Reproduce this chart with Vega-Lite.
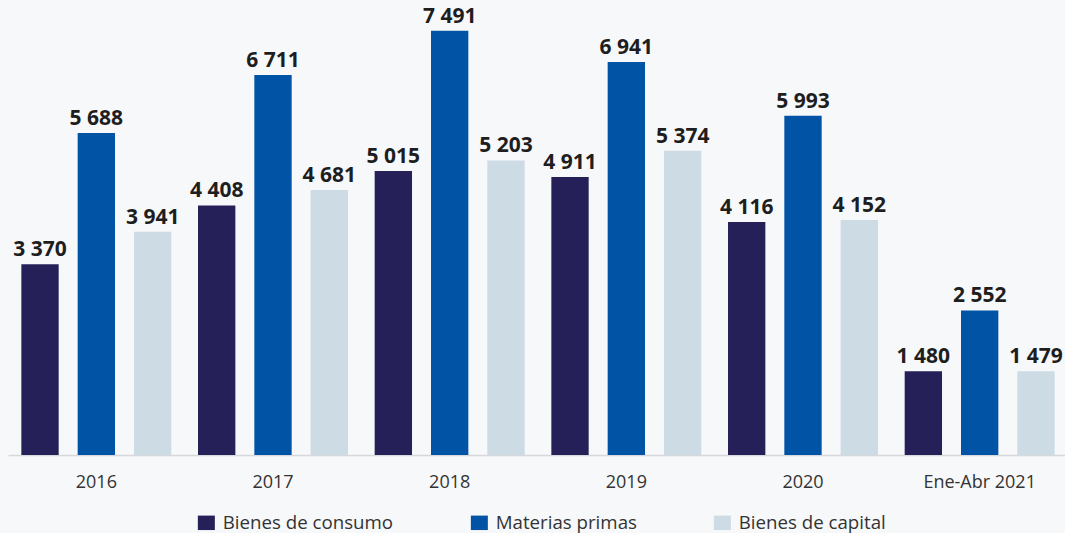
{
  "$schema": "https://vega.github.io/schema/vega-lite/v6.json",
  "width": 1057,
  "height": 453,
  "autosize": "none",
  "padding": {"left": 8, "top": 2, "right": 0, "bottom": 78},
  "background": "#f7f8fa",
  "config": {
    "view": {"stroke": null},
    "font": "Open Sans",
    "locale": {"number": {"decimal": ",", "thousands": " ", "grouping": [3], "currency": ["", ""]}}
  },
  "data": {
    "values": [
      {"periodo": "2016", "tipo": "Bienes de consumo", "valor": 3370},
      {"periodo": "2016", "tipo": "Materias primas", "valor": 5688},
      {"periodo": "2016", "tipo": "Bienes de capital", "valor": 3941},
      {"periodo": "2017", "tipo": "Bienes de consumo", "valor": 4408},
      {"periodo": "2017", "tipo": "Materias primas", "valor": 6711},
      {"periodo": "2017", "tipo": "Bienes de capital", "valor": 4681},
      {"periodo": "2018", "tipo": "Bienes de consumo", "valor": 5015},
      {"periodo": "2018", "tipo": "Materias primas", "valor": 7491},
      {"periodo": "2018", "tipo": "Bienes de capital", "valor": 5203},
      {"periodo": "2019", "tipo": "Bienes de consumo", "valor": 4911},
      {"periodo": "2019", "tipo": "Materias primas", "valor": 6941},
      {"periodo": "2019", "tipo": "Bienes de capital", "valor": 5374},
      {"periodo": "2020", "tipo": "Bienes de consumo", "valor": 4116},
      {"periodo": "2020", "tipo": "Materias primas", "valor": 5993},
      {"periodo": "2020", "tipo": "Bienes de capital", "valor": 4152},
      {"periodo": "Ene-Abr 2021", "tipo": "Bienes de consumo", "valor": 1480},
      {"periodo": "Ene-Abr 2021", "tipo": "Materias primas", "valor": 2552},
      {"periodo": "Ene-Abr 2021", "tipo": "Bienes de capital", "valor": 1479}
    ]
  },
  "encoding": {
    "x": {
      "field": "periodo",
      "type": "nominal",
      "sort": null,
      "scale": {"range": [0, 1060], "paddingInner": 0, "paddingOuter": 0},
      "axis": {
        "title": null,
        "labelAngle": 0,
        "ticks": false,
        "labelFontSize": 18,
        "labelColor": "#333333",
        "labelPadding": 18,
        "domainColor": "#d6d8db",
        "domainWidth": 1.5
      }
    },
    "xOffset": {
      "field": "tipo",
      "type": "nominal",
      "sort": ["Bienes de consumo", "Materias primas", "Bienes de capital"],
      "scale": {"paddingInner": 0.337, "paddingOuter": 0.237}
    },
    "y": {
      "field": "valor",
      "type": "quantitative",
      "scale": {"domain": [0, 8000], "nice": false},
      "axis": null
    }
  },
  "layer": [
    {
      "mark": {"type": "bar"},
      "encoding": {
        "color": {
          "field": "tipo",
          "type": "nominal",
          "scale": {
            "domain": ["Bienes de consumo", "Materias primas", "Bienes de capital"],
            "range": ["#252058", "#0053a5", "#cddbe4"]
          },
          "legend": {
            "title": null,
            "orient": "none",
            "direction": "horizontal",
            "legendX": 189,
            "legendY": 511,
            "padding": 0,
            "columnPadding": 76,
            "labelOffset": 7,
            "labelFontSize": 18.7,
            "labelLimit": 400,
            "labelColor": "#333333",
            "symbolType": "M-1,-0.85H1V0.85H-1Z",
            "symbolSize": 289,
            "symbolStrokeWidth": 0
          }
        }
      }
    },
    {
      "mark": {
        "type": "text",
        "baseline": "alphabetic",
        "dy": -8,
        "fontSize": 21,
        "fontWeight": "bold",
        "color": "#1e1e1e"
      },
      "encoding": {
        "text": {"field": "valor", "type": "quantitative", "format": ",d"}
      }
    }
  ]
}
